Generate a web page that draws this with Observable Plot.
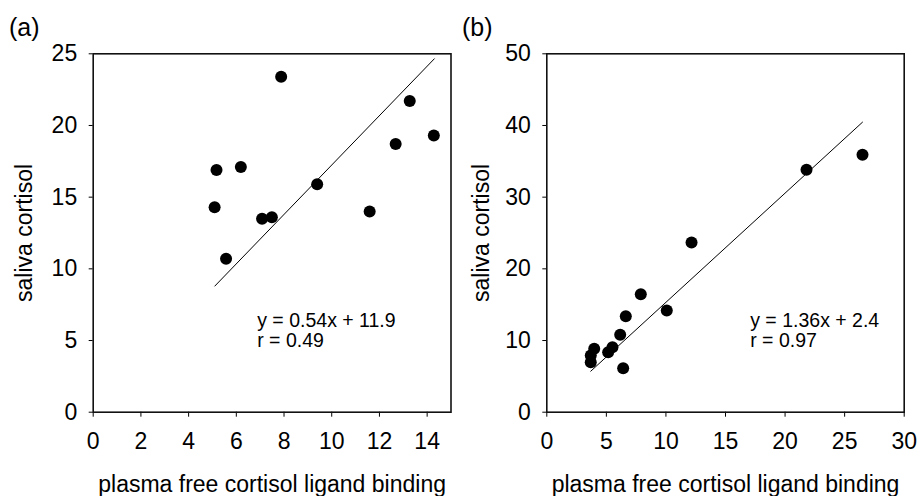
<!DOCTYPE html>
<html><head><meta charset="utf-8">
<script src="https://cdn.jsdelivr.net/npm/d3@7"></script>
<script src="https://cdn.jsdelivr.net/npm/@observablehq/plot@0.6"></script>
<style>
body{margin:0;background:#fff}
#wrap{position:relative;width:917px;height:496px;overflow:hidden;background:#fff}
.p{position:absolute;top:0}
</style>
</head><body>
<div id="wrap"><div class="p" id="pa" style="left:0"></div><div class="p" id="pb" style="left:458px"></div></div>
<script>
// Panel (a) data
const aX = [5.17, 5.09, 5.57, 6.19, 7.08, 7.49, 7.88, 9.39, 11.59, 12.68, 13.27, 14.28];
const aY = [16.9, 14.3, 10.7, 17.1, 13.5, 13.6, 23.4, 15.9, 14.0, 18.7, 21.7, 19.3];
const aLineX = [5.1, 14.3];
const aLineY = [8.8, 24.65];
const aTicksX = [0, 2, 4, 6, 8, 10, 12, 14];
const aTicksY = [0, 5, 10, 15, 20, 25];
const aEq = ["y = 0.54x + 11.9", "r = 0.49"];

// Panel (b) data
const bX = [3.69, 3.69, 3.98, 5.15, 5.51, 6.16, 6.41, 6.63, 7.89, 10.07, 12.15, 21.8, 26.5];
const bY = [6.98, 7.91, 8.84, 8.37, 9.07, 10.8, 6.14, 13.39, 16.46, 14.19, 23.67, 33.82, 35.91];
const bLineX = [3.69, 26.5];
const bLineY = [5.72, 40.46];
const bTicksX = [0, 5, 10, 15, 20, 25, 30];
const bTicksY = [0, 10, 20, 30, 40, 50];
const bEq = ["y = 1.36x + 2.4", "r = 0.97"];

const xLabel = "plasma free cortisol ligand binding";
const yLabel = "saliva cortisol";

const FONT = "'Liberation Sans', Arial, Helvetica, sans-serif";

function panel(o) {
  const pts = o.xs.map((x, i) => ({x, y: o.ys[i]}));
  const line = o.lx.map((x, i) => ({x, y: o.ly[i]}));
  const T = {fill: "black", lineAnchor: "middle"};
  return Plot.plot({
    width: o.width, height: 496,
    marginTop: 53.3, marginBottom: 84.3, marginLeft: o.ml, marginRight: o.mr,
    style: {fontFamily: FONT, fontSize: "23px", background: "white", color: "black", overflow: "visible"},
    x: {domain: o.xd, axis: null},
    y: {domain: o.yd, axis: null},
    marks: [
      Plot.axisX(o.tx, {tickSize: 5, tickPadding: 15, label: null, stroke: "black", fill: "black", fontSize: 23}),
      Plot.axisY(o.ty, {tickSize: 4, tickPadding: 12, label: null, stroke: "black", fill: "black", fontSize: 23}),
      Plot.frame({stroke: "#111", strokeWidth: 1.6}),
      Plot.line(line, {x: "x", y: "y", stroke: "black", strokeWidth: 1}),
      Plot.dot(pts, {x: "x", y: "y", r: 6, fill: "black", stroke: "none"}),
      Plot.text([o.eq[0]], {...T, frameAnchor: "top-left", dx: o.eqdx, dy: 267.2, textAnchor: "start", fontSize: 19.5}),
      Plot.text([o.eq[1]], {...T, frameAnchor: "top-left", dx: o.eqdx, dy: 287.2, textAnchor: "start", fontSize: 19.5}),
      Plot.text([xLabel], {...T, frameAnchor: "bottom", dy: 72.6, textAnchor: "middle", fontSize: 23}),
      Plot.text([yLabel], {...T, frameAnchor: "left", dx: o.ydx, rotate: -90, textAnchor: "middle", fontSize: 23}),
      Plot.text([o.tag], {...T, frameAnchor: "top-left", dx: o.tagdx, dy: -25.8, textAnchor: "start", fontSize: 25})
    ]
  });
}

document.getElementById("pa").appendChild(panel({
  width: 458, ml: 92.7, mr: 7.5, xd: [0, 15], yd: [0, 25],
  xs: aX, ys: aY, lx: aLineX, ly: aLineY, tx: aTicksX, ty: aTicksY,
  eq: aEq, eqdx: 164, ydx: -68.4, tag: "(a)", tagdx: -84.2
}));
document.getElementById("pb").appendChild(panel({
  width: 459, ml: 88.3, mr: 13.3, xd: [0, 30], yd: [0, 50],
  xs: bX, ys: bY, lx: bLineX, ly: bLineY, tx: bTicksX, ty: bTicksY,
  eq: bEq, eqdx: 203.4, ydx: -65, tag: "(b)", tagdx: -84.8
}));
</script>
</body></html>
